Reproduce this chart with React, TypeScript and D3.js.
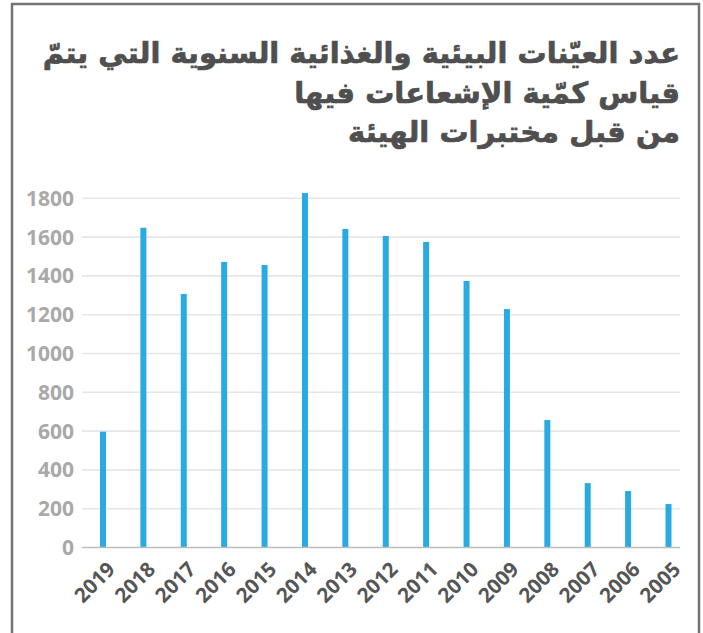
import React, { useEffect, useRef } from 'react';
import * as d3 from 'd3';

const years = ['2019', '2018', '2017', '2016', '2015', '2014', '2013', '2012', '2011', '2010', '2009', '2008', '2007', '2006', '2005'];
const samples = [597, 1648, 1307, 1472, 1456, 1827, 1642, 1606, 1575, 1374, 1229, 657, 332, 291, 224];
const yTicks = [0, 200, 400, 600, 800, 1000, 1200, 1400, 1600, 1800];
const titleLines = [
  'عدد العيّنات البيئية والغذائية السنوية التي يتمّ',
  'قياس كمّية الإشعاعات فيها',
  'من قبل مختبرات الهيئة',
];

const W = 703;
const H = 633;

const App = () => {
  const svgRef = useRef<SVGSVGElement>(null);

  useEffect(() => {
    const svg = d3.select(svgRef.current);
    svg.selectAll('*').remove();

    // frame
    svg.append('rect')
      .attr('x', 12).attr('y', 4)
      .attr('width', 687).attr('height', 700)
      .attr('fill', '#fff')
      .attr('stroke', '#737373')
      .attr('stroke-width', 2.5);

    // title
    svg.append('g')
      .selectAll('text')
      .data(titleLines)
      .join('text')
      .attr('x', 680)
      .attr('y', (d, i) => 63 + i * 39.5)
      .attr('text-anchor', 'end')
      .attr('fill', '#4f4f4f')
      .attr('stroke', '#4f4f4f')
      .attr('stroke-width', 0.7)
      .style('font-family', '"DejaVu Sans", sans-serif')
      .style('font-weight', 'bold')
      .style('font-size', '29px')
      .text(d => d);

    const x = d3.scaleBand()
      .domain(years)
      .range([82.8, 688.7])
      .padding(0);

    const y = d3.scaleLinear()
      .domain([0, 1800])
      .range([547.5, 198.3]);

    // gridlines
    svg.append('g')
      .selectAll('line')
      .data(yTicks.filter(t => t > 0))
      .join('line')
      .attr('x1', 82).attr('x2', 680)
      .attr('y1', d => y(d)).attr('y2', d => y(d))
      .attr('stroke', '#e6e6e6')
      .attr('stroke-width', 1.6);

    // y tick labels
    svg.append('g')
      .selectAll('text')
      .data(yTicks)
      .join('text')
      .attr('x', 74)
      .attr('y', d => y(d))
      .attr('dy', '0.36em')
      .attr('text-anchor', 'end')
      .attr('fill', '#a9a9a9')
      .style('font-family', '"Open Sans", sans-serif')
      .style('font-weight', 'bold')
      .style('font-size', '21px')
      .text(d => d);

    // bars
    const bw = 6;
    svg.append('g')
      .selectAll('rect')
      .data(years.map((yr, i) => ({ yr, v: samples[i] })))
      .join('rect')
      .attr('x', d => (x(d.yr) as number) + x.step() / 2 - bw / 2)
      .attr('y', d => y(d.v))
      .attr('width', bw)
      .attr('height', d => y(0) - y(d.v))
      .attr('fill', '#29abe2');

    // baseline
    svg.append('line')
      .attr('x1', 82).attr('x2', 680)
      .attr('y1', y(0)).attr('y2', y(0))
      .attr('stroke', '#bdbdbd')
      .attr('stroke-width', 1.6);

    // x tick labels
    svg.append('g')
      .selectAll('text')
      .data(years)
      .join('text')
      .attr('transform', d => `translate(${(x(d) as number) + x.step() / 2 + 8},${y(0) + 18}) rotate(-45)`)
      .attr('text-anchor', 'end')
      .attr('dy', '0.36em')
      .attr('fill', '#565656')
      .style('font-family', '"Open Sans", sans-serif')
      .style('font-weight', 'bold')
      .style('font-size', '20.5px')
      .text(d => d);
  }, []);

  return (
    <svg
      ref={svgRef}
      width={W}
      height={H}
      style={{ position: 'absolute', left: 0, top: 0, background: '#fff' }}
    />
  );
};

export default App;
